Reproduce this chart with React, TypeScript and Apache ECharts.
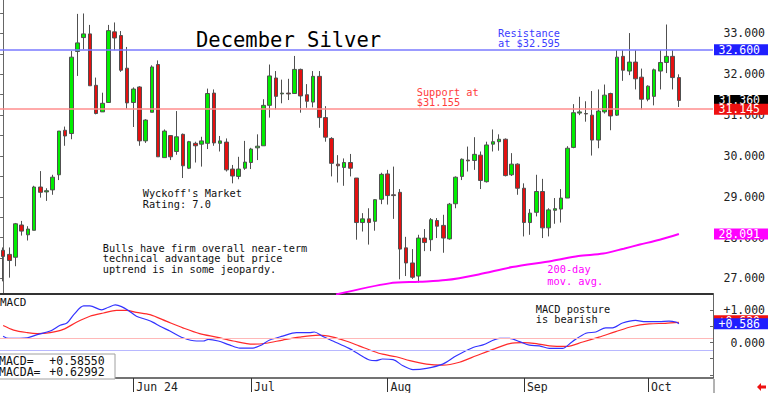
import React, { useEffect, useRef } from 'react';
import * as echarts from 'echarts';

// ---- calendar (trading days, 2024) ----
const mayDays = [2, 3, 6, 7, 8, 9, 10, 13, 14, 15, 16, 17, 20, 21, 22, 23, 24, 28, 29, 30, 31];
const junDays = [3, 4, 5, 6, 7, 10, 11, 12, 13, 14, 17, 18, 20, 21, 24, 25, 26, 27, 28];
const julDays = [1, 2, 3, 5, 8, 9, 10, 11, 12, 15, 16, 17, 18, 19, 22, 23, 24, 25, 26, 29, 30, 31];
const augDays = [1, 2, 5, 6, 7, 8, 9, 12, 13, 14, 15, 16, 19, 20, 21, 22, 23, 26, 27, 28, 29, 30];
const sepDays = [3, 4, 5, 6, 9, 10, 11, 12, 13, 16, 17, 18, 19, 20, 23, 24, 25, 26, 27, 30];
const octDays = [1, 2, 3, 4, 7, 8];
const padDates = ['2024-10-09', '2024-10-10', '2024-10-11', '2024-10-14', '2024-10-15'];

const monthTickDates = ['2024-06-03', '2024-07-01', '2024-08-01', '2024-09-03', '2024-10-01'];
const monthTickLabels = ['Jun 24', 'Jul', 'Aug', 'Sep', 'Oct'];

// ---- December silver OHLC ----
const opens = [
  27.69, 27.59, 27.52, 28.31, 28.07, 28.18, 29.24, 29.12, 29.17, 29.54,
  30.63, 30.55, 32.56, 32.90, 32.99, 31.73, 31.08, 31.31, 33.04, 32.95,
  32.15, 31.31, 31.69, 30.37, 31.07, 32.24, 29.96, 30.50, 30.11, 30.53,
  29.70, 30.31, 30.29, 30.31, 31.54, 30.31, 30.34, 29.68, 29.50, 29.70,
  29.84, 30.20, 30.25, 31.24, 31.91, 31.52, 31.54, 31.53, 32.12, 31.50,
  31.32, 31.95, 30.94, 30.43, 29.80, 29.72, 29.84, 29.46, 28.37, 28.46,
  28.40, 28.94, 29.56, 29.05, 29.11, 27.75, 27.38, 27.06, 27.99, 27.95,
  28.42, 28.30, 27.97, 28.83, 29.50, 29.90, 29.89, 30.02, 29.37, 30.29,
  30.35, 30.41, 29.54, 29.80, 29.21, 28.37, 28.62, 29.13, 28.24, 28.67,
  28.70, 28.97, 30.21, 31.05, 31.04, 31.00, 30.39, 31.08, 31.53, 31.00,
  32.44, 32.08, 32.30, 31.93, 31.39, 31.46, 32.08, 32.29, 32.44, 31.92,
];
const closes = [
  27.54, 27.44, 28.34, 28.16, 28.21, 29.24, 29.11, 29.15, 29.48, 30.61,
  30.49, 32.42, 32.77, 32.99, 31.72, 31.04, 31.29, 33.07, 32.89, 32.10,
  31.30, 31.64, 30.37, 30.88, 32.18, 29.98, 30.61, 29.98, 30.47, 29.76,
  30.35, 30.25, 30.37, 31.53, 30.32, 30.37, 29.66, 29.51, 29.68, 29.85,
  30.17, 30.24, 31.24, 31.96, 31.46, 31.54, 31.52, 32.12, 31.47, 31.34,
  31.95, 30.94, 30.46, 29.82, 29.76, 29.84, 29.70, 28.37, 28.46, 28.37,
  28.93, 29.55, 29.03, 29.03, 27.72, 27.38, 27.03, 27.99, 27.88, 28.44,
  28.28, 27.99, 28.82, 29.48, 29.92, 29.88, 30.04, 29.40, 30.27, 30.35,
  30.41, 29.52, 29.80, 29.21, 28.37, 28.60, 29.13, 28.24, 28.68, 28.71,
  28.97, 30.19, 31.06, 31.08, 31.03, 30.39, 31.10, 31.49, 30.98, 32.42,
  32.10, 32.30, 31.89, 31.39, 31.71, 32.11, 32.29, 32.44, 31.92, 31.36,
];
const lows = [
  26.93, 27.02, 27.30, 28.05, 27.93, 28.18, 28.98, 28.90, 29.05, 29.41,
  30.25, 30.41, 31.96, 32.61, 31.72, 31.02, 31.08, 31.31, 32.59, 32.06,
  31.16, 30.71, 30.25, 30.32, 31.07, 29.98, 29.96, 29.90, 30.03, 29.46,
  29.68, 29.84, 29.74, 30.17, 30.25, 30.11, 29.62, 29.33, 29.43, 29.66,
  29.68, 29.90, 30.25, 30.94, 31.14, 31.29, 31.37, 31.53, 31.06, 31.18,
  31.19, 30.69, 30.35, 29.50, 29.35, 29.27, 29.50, 27.95, 28.15, 27.83,
  28.17, 28.82, 28.81, 28.46, 26.98, 27.06, 26.99, 26.90, 27.67, 27.67,
  27.99, 27.63, 27.95, 28.72, 29.41, 29.62, 29.66, 29.19, 29.35, 30.11,
  30.13, 29.50, 29.51, 29.05, 28.03, 28.07, 28.52, 27.99, 28.03, 28.34,
  28.37, 28.97, 30.19, 31.00, 30.84, 30.01, 30.19, 31.04, 30.63, 30.98,
  31.84, 31.98, 31.63, 31.14, 31.34, 31.24, 31.63, 32.03, 31.63, 31.20,
];
const highs = [
  27.76, 27.76, 28.36, 28.41, 28.28, 29.27, 29.63, 29.21, 29.54, 30.61,
  30.72, 32.57, 33.48, 33.49, 33.21, 31.92, 31.55, 33.21, 33.27, 33.06,
  32.67, 31.68, 31.71, 30.90, 32.22, 32.34, 30.65, 30.51, 31.10, 30.55,
  30.37, 30.35, 30.47, 31.65, 31.63, 30.49, 30.43, 29.78, 29.98, 30.37,
  30.20, 30.53, 31.39, 32.24, 32.08, 31.87, 31.89, 32.45, 32.14, 31.76,
  32.08, 32.08, 31.22, 30.46, 30.02, 29.94, 30.05, 29.46, 28.60, 28.72,
  28.94, 29.59, 29.66, 29.74, 29.19, 28.02, 27.72, 28.07, 28.21, 28.48,
  28.48, 28.56, 28.85, 29.50, 29.94, 30.23, 30.46, 30.11, 30.35, 30.65,
  30.53, 30.43, 30.07, 29.82, 29.33, 28.70, 29.54, 29.44, 28.72, 28.97,
  29.19, 30.24, 31.27, 31.45, 31.34, 31.59, 31.63, 31.75, 31.55, 32.59,
  32.59, 33.01, 32.59, 32.14, 31.73, 32.14, 32.59, 33.22, 32.59, 32.00,
];

// ---- 200-day moving average (bar index, price) ----
const maIdx = [53.7, 62.3, 67.1, 71.4, 76.7, 82.1, 88.5, 92.8, 96.8, 100.1, 102.7, 105.9, 109];
const maVal = [26.61, 26.88, 26.92, 26.96, 27.10, 27.28, 27.43, 27.55, 27.61, 27.73, 27.83, 27.95, 28.091];

// ---- MACD (bar index, value) ----
const macdIdx = [0, 0.9, 3.9, 5.5, 7.6, 9.2, 10.3, 11.4, 13, 14, 15.9, 17, 18.1, 19.1, 20.2, 21.5, 23.2, 24.2, 25.3, 26.9, 29, 31.2, 32.3, 33.1, 34.7, 36.5, 38.2, 40.3, 41.4, 43, 45.1, 47.3, 49.4, 50.2, 51.5, 53.2, 55.8, 57.4, 59.1, 60.1, 61.2, 62.9, 64.5, 66.1, 68.3, 70.9, 73.1, 75.8, 77.4, 80.1, 81.7, 83.3, 84.9, 86.5, 88.1, 90.2, 91.8, 94, 95.6, 97.2, 98.3, 99.9, 102, 103.6, 105.8, 107.4, 108.5, 109];
const macdVal = [0.20, 0.13, 0.15, 0.25, 0.36, 0.54, 0.61, 0.87, 1.14, 1.14, 1.02, 1.10, 1.17, 1.12, 1.00, 0.82, 0.71, 0.63, 0.51, 0.36, 0.15, 0.05, 0.05, 0.10, 0.05, -0.07, -0.17, -0.17, -0.10, 0.08, 0.20, 0.31, 0.31, 0.33, 0.20, 0.05, -0.18, -0.36, -0.54, -0.56, -0.51, -0.53, -0.72, -0.84, -0.80, -0.67, -0.41, -0.15, -0.07, 0.13, 0.13, 0.03, -0.08, -0.10, -0.18, -0.18, 0.03, 0.29, 0.33, 0.46, 0.46, 0.61, 0.69, 0.65, 0.65, 0.67, 0.64, 0.5855];
const signalIdx = [0, 1.7, 3.9, 5.5, 7.6, 9.7, 11.9, 14, 16.2, 18.3, 19.9, 21.5, 23.7, 26.4, 29, 31.7, 34.4, 37.1, 40.3, 42.4, 45.1, 47.8, 51, 53.2, 55.3, 57.4, 59.6, 61.2, 63.4, 65.6, 68.3, 70.9, 73.6, 76.3, 79, 81.7, 83.8, 86, 88.1, 90.8, 93.5, 96.1, 98.8, 101.5, 104.2, 106.8, 109];
const signalVal = [0.53, 0.39, 0.31, 0.28, 0.31, 0.41, 0.64, 0.82, 0.92, 1.00, 1.00, 0.94, 0.87, 0.66, 0.46, 0.28, 0.17, 0.05, -0.05, -0.02, 0.08, 0.17, 0.23, 0.17, 0.05, -0.10, -0.26, -0.36, -0.44, -0.56, -0.67, -0.70, -0.61, -0.41, -0.21, -0.03, 0.00, -0.03, -0.10, -0.12, 0.02, 0.17, 0.34, 0.50, 0.58, 0.60, 0.62992];

// ---- levels & axis ticks ----
const resistanceLevel = 32.595;
const supportLevel = 31.155;
const priceBoxes = [32.6, 31.36, 31.145, 28.091];
const priceTicks = [27, 28, 29, 30, 31, 32, 33];
const priceMinorTicks = [27, 27.5, 28, 28.5, 29, 29.5, 30, 30.5, 31, 31.5, 32, 32.5, 33, 33.5];
const macdTicks = [0, 1];
const macdGuides = [0.15, -0.25];

const mono = '"DejaVu Sans Mono", monospace';

function buildCategories(): string[] {
  const out: string[] = [];
  const months: [string, number[]][] = [['05', mayDays], ['06', junDays], ['07', julDays], ['08', augDays], ['09', sepDays], ['10', octDays]];
  months.forEach(([m, days]) => days.forEach((d) => out.push(`2024-${m}-${String(d).padStart(2, '0')}`)));
  return out.concat(padDates);
}

export default function App() {
  const ref = useRef<HTMLDivElement>(null);
  useEffect(() => {
    document.body.style.margin = '0';
    const chart = echarts.init(ref.current!, null, { renderer: 'svg' });
    const categories = buildCategories();
    const ohlc = opens.map((o, i) => [o, closes[i], lows[i], highs[i]]);
    const nCat = categories.length;
    const isMonthTick = (_i: number, v: string) => monthTickDates.includes(v);
    const boxColors = ['#1f1fff', '#000000', '#ee1111', '#ff00ff'];
    const lastMacd = macdVal[macdVal.length - 1];
    const lastSignal = signalVal[signalVal.length - 1];
    const fmt3 = (v: number) => (v + 1e-9).toFixed(3);

    const text = (x: number, y: number, t: string, fill: string, size = 10.3, lh = 10.5) => ({
      type: 'text',
      x,
      y,
      silent: true,
      z: 10,
      style: { text: t, fill, fontFamily: mono, fontSize: size, lineHeight: lh, align: 'left', verticalAlign: 'middle' },
    });

    const baseGraphic: any[] = [
      text(196, 39.5, 'December Silver', '#000', 20.5, 22),
      text(498, 38.3, 'Resistance\nat $32.595', '#3c3cff', 10.3, 10),
      text(416.7, 96.7, 'Support at\n$31.155', '#ff3c3c', 10.3, 10),
      text(142.7, 198.7, "Wyckoff's Market\nRating: 7.0", '#111', 10.3, 10.7),
      text(102.7, 258.2, 'Bulls have firm overall near-term\ntechnical advantage but price\nuptrend is in some jeopardy.', '#111', 10.3, 10.5),
      text(547.3, 275.2, '200-day\nmov. avg.', '#ff00ff', 10.3, 11.7),
      text(535.7, 314.2, 'MACD posture\nis bearish', '#111', 10.3, 10.3),
      text(0, 302.7, 'MACD', '#111', 11, 12),
      {
        type: 'rect', z: 9, silent: true,
        shape: { x: -1, y: 354, width: 116, height: 25 },
        style: { fill: '#ffffff', stroke: '#a0a0a0', lineWidth: 1 },
      },
      text(-1, 366.2, 'MACD=\nMACDA=', '#111', 11.5, 11),
      text(49.3, 366.2, '+' + lastMacd.toFixed(5) + '\n+' + lastSignal.toFixed(5), '#111', 11.5, 11),
      {
        type: 'line', silent: true,
        shape: { x1: 714, y1: 379, x2: 714, y2: 393 },
        style: { stroke: '#666', lineWidth: 1 },
      },
      {
        type: 'polygon', silent: true,
        shape: { points: [[757, 387], [761, 383], [761, 385.5], [766, 385.5], [766, 388.5], [761, 388.5], [761, 391]] },
        style: { fill: '#ee1111' },
      },
    ];

    const option: any = {
      animation: false,
      backgroundColor: '#ffffff',
      grid: [
        { left: 0, right: 54, top: 0, height: 294 },
        { left: 0, right: 54, top: 295, height: 84 },
      ],
      xAxis: [
        {
          type: 'category', gridIndex: 0, data: categories, boundaryGap: true,
          axisLine: { show: true, onZero: false, lineStyle: { color: '#333', width: 2 } },
          axisTick: { show: false }, axisLabel: { show: false }, splitLine: { show: false },
        },
        { type: 'value', gridIndex: 0, min: -0.5, max: nCat - 0.5, show: false },
        {
          type: 'category', gridIndex: 1, data: categories, boundaryGap: true,
          axisLine: { show: true, onZero: false, lineStyle: { color: '#444', width: 1.5 } },
          axisTick: { show: true, alignWithLabel: true, interval: isMonthTick, length: 14, lineStyle: { color: '#333' } },
          axisLabel: {
            show: true, interval: isMonthTick, align: 'left', margin: 3, padding: [0, 0, 0, 3],
            formatter: (v: string) => monthTickLabels[monthTickDates.indexOf(v)] ?? '',
            fontFamily: mono, fontSize: 11.5, color: '#222',
          },
          splitLine: { show: false },
        },
        { type: 'value', gridIndex: 1, min: -0.5, max: nCat - 0.5, show: false },
      ],
      yAxis: [
        {
          type: 'value', gridIndex: 0, position: 'right', min: 26.62, max: 33.82,
          axisLine: { show: true, lineStyle: { color: '#666' } },
          axisTick: { show: true, inside: true, length: 3, customValues: priceMinorTicks, lineStyle: { color: '#666' } },
          axisLabel: {
            show: true, customValues: priceTicks, formatter: (v: number) => v.toFixed(3),
            align: 'right', margin: 52, fontFamily: mono, fontSize: 11.5, color: '#222',
          },
          splitLine: { show: false },
        },
        {
          type: 'value', gridIndex: 1, position: 'right', min: -1.1, max: 1.48,
          axisLine: { show: true, onZero: false, lineStyle: { color: '#666' } },
          axisTick: { show: true, inside: true, length: 3, customValues: [-1, -0.5, 0, 0.5, 1], lineStyle: { color: '#666' } },
          axisLabel: {
            show: true, customValues: macdTicks,
            formatter: (v: number) => (v > 0 ? '+' : '') + v.toFixed(3),
            align: 'right', margin: 52, fontFamily: mono, fontSize: 11.5, color: '#222',
          },
          splitLine: { show: false },
        },
      ],
      series: [
        {
          type: 'candlestick', xAxisIndex: 0, yAxisIndex: 0, data: ohlc, barWidth: 4,
          itemStyle: { color: '#00ee00', color0: '#e41010', borderColor: '#505050', borderColor0: '#505050', borderWidth: 1 },
          markLine: {
            symbol: 'none', silent: true,
            label: { show: false },
            data: [
              { yAxis: resistanceLevel, lineStyle: { color: '#7a7aff', width: 1.5, type: 'solid' } },
              { yAxis: supportLevel, lineStyle: { color: '#ff8e8e', width: 1.5, type: 'solid' } },
            ],
          },
        },
        {
          type: 'line', xAxisIndex: 1, yAxisIndex: 0, data: maIdx.map((x, i) => [x, maVal[i]]),
          showSymbol: false, symbol: 'none', smooth: 0.3, clip: true,
          lineStyle: { color: '#ff00ff', width: 2 },
        },
        {
          type: 'line', xAxisIndex: 3, yAxisIndex: 1, data: macdIdx.map((x, i) => [x, macdVal[i]]),
          showSymbol: false, symbol: 'none', smooth: 0.3,
          lineStyle: { color: '#3333ff', width: 1.2 },
          z: 4,
        },
        {
          type: 'line', xAxisIndex: 3, yAxisIndex: 1, data: signalIdx.map((x, i) => [x, signalVal[i]]),
          showSymbol: false, symbol: 'none', smooth: 0.3,
          lineStyle: { color: '#ff2a2a', width: 1.2 },
          z: 3,
          markLine: {
            symbol: 'none', silent: true,
            label: { show: false },
            data: [
              { yAxis: macdGuides[0], lineStyle: { color: '#ffb8b8', width: 1, type: 'solid' } },
              { yAxis: macdGuides[1], lineStyle: { color: '#b8b8ff', width: 1, type: 'solid' } },
            ],
          },
        },
      ],
      graphic: baseGraphic,
    };
    chart.setOption(option);

    // value boxes on the right axis, positioned through the axes' scales;
    // each later box is stacked above the earlier ones
    let zNext = 50;
    const box = (yPx: number, label: string, color: string) => {
      const zr = zNext;
      zNext += 2;
      return [
        {
          type: 'rect', silent: true, z: zr,
          shape: { x: 714, y: yPx - 5.5, width: 54, height: 11 },
          style: { fill: color },
        },
        {
          type: 'text', silent: true, z: zr + 1, x: 718.5, y: yPx,
          style: { text: label, fill: '#fff', fontFamily: mono, fontSize: 11.5, align: 'left', verticalAlign: 'middle' },
        },
      ];
    };
    const boxes: any[] = [];
    priceBoxes.forEach((v, i) => {
      const y = chart.convertToPixel({ yAxisIndex: 0 } as any, v) as number;
      boxes.push(...box(y, fmt3(v), boxColors[i]));
    });
    const ySig = chart.convertToPixel({ yAxisIndex: 1 } as any, lastSignal) as number;
    boxes.push(...box(ySig - 1.5, '+' + fmt3(lastSignal), '#ee1111'));
    const yMacd = chart.convertToPixel({ yAxisIndex: 1 } as any, lastMacd) as number;
    boxes.push(...box(yMacd, '+' + fmt3(lastMacd), '#1f1fff'));
    chart.setOption({ graphic: [...baseGraphic, ...boxes] });

    return () => chart.dispose();
  }, []);
  return <div ref={ref} style={{ width: 768, height: 393 }} />;
}
